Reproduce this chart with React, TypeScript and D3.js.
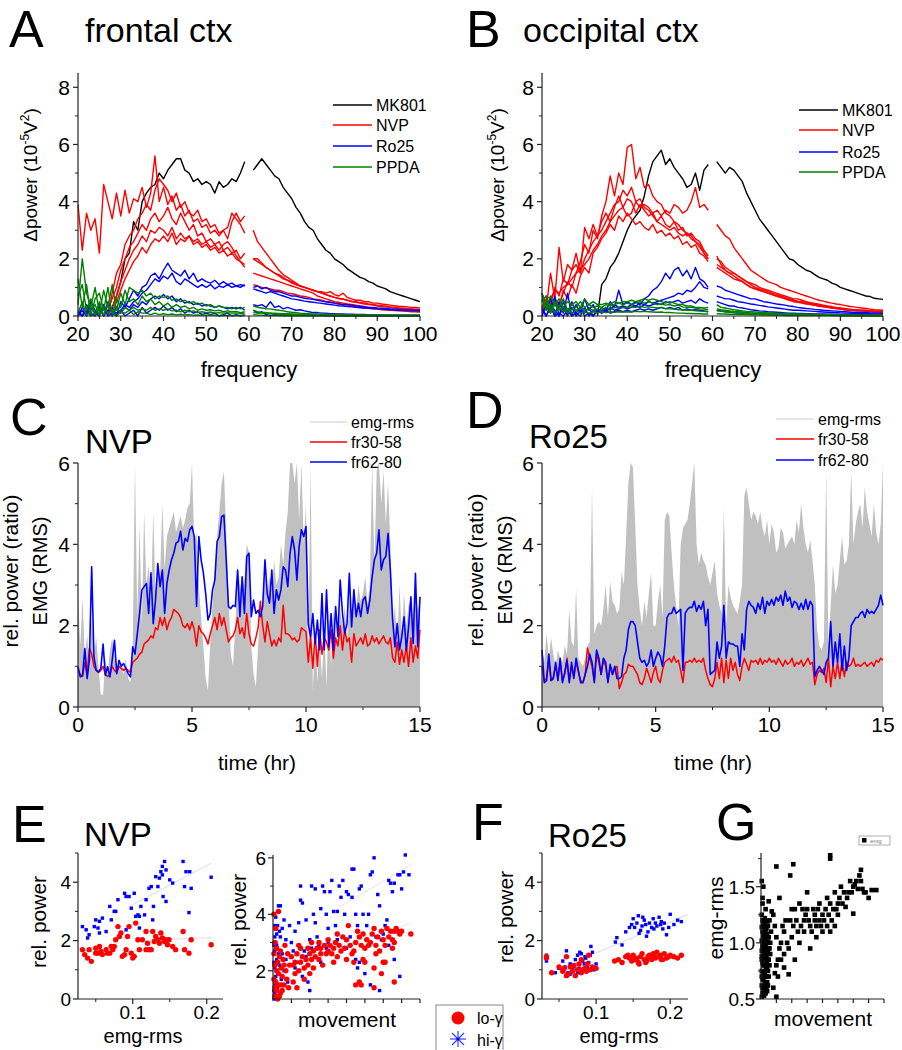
import React from "react";
import * as d3 from "d3";

const FONT = "'Liberation Sans', Arial, Helvetica, sans-serif";
const RED = "#ff0000";
const BLUE = "#0000ff";
const GREEN = "#008000";
const AX = "#222";

// x grids (axes positions, not data)
const FREQS = d3.range(20, 101); // 20..100 Hz, 1 Hz bins
const HOURS = d3.range(0, 151).map((i) => i / 10); // 0..15 hr, 0.1 hr bins

// ---------- A: frontal ctx spectra (delta power, 1e-5 V^2), null = 60 Hz notch / no data
const aMK801 = [
  null, null, null, null, null, null, null, null, 0.3, 0.7,
  1.2, 2.0, 2.2, 3.3, 3.0, 4.0, 4.3, 4.5, 4.6, 5.0,
  4.8, 5.1, 5.3, 5.5, 5.5, 5.1, 5.0, 4.7, 4.8, 4.6,
  4.7, 4.6, 4.3, 4.7, 4.5, 4.6, 4.8, 4.7, 5.0, 5.4,
  null, 5.1, 5.3, 5.5, 5.3, 5.1, 4.9, 4.8, 4.5, 4.3,
  4.1, 3.8, 3.6, 3.3, 3.1, 3.0, 2.7, 2.5, 2.3, 2.2,
  2.0, 1.9, 1.8, 1.65, 1.55, 1.45, 1.35, 1.3, 1.2, 1.15,
  1.05, 1.0, 0.95, 0.85, 0.8, 0.75, 0.7, 0.65, 0.6, 0.55,
  0.5,
];
const aNVP = [
  [
    3.9, 2.3, 3.6, 3.0, 3.4, 2.2, 4.6, 4.0, 3.4, 4.3,
    3.5, 4.4, 3.6, 4.1, 4.0, 4.5, 3.8, 4.3, 5.6, 4.0,
    4.5, 3.9, 4.2, 3.7, 3.9, 3.5, 3.7, 3.3, 3.4, 3.1,
    3.2, 2.9, 3.0, 2.8, 3.0, 2.7, 3.3, 3.6, 3.3, 3.5,
    null, 3.0, 2.6, 2.4, 2.2, 2.0, 1.8, 1.6, 1.45, 1.35,
    1.25, 1.15, 1.05, 1.0, 0.95, 0.9, 0.85, 0.85, 0.8, 0.85,
    0.75, 0.7, 0.8, 0.65, 0.6, 0.55, 0.55, 0.5, 0.5, 0.45,
    0.45, 0.42, 0.4, 0.38, 0.36, 0.34, 0.33, 0.32, 0.3, 0.3,
    0.28,
  ],
  [
    null, null, null, null, null, null, null, 0.0, 0.8, 1.5,
    1.8, 2.5, 2.8, 3.0, 3.4, 3.6, 3.9, 3.7, 4.4, 4.8,
    4.6, 4.4, 4.0, 4.3, 3.8, 4.0, 3.6, 3.5, 3.7, 3.3,
    3.4, 3.1, 3.2, 2.9, 3.0, 3.1, 3.6, 3.4, 3.2, 2.9,
    null, 2.0, 2.0, 1.85, 1.7, 1.6, 1.5, 1.45, 1.35, 1.25,
    1.15, 1.1, 1.05, 1.0, 0.95, 0.9, 0.85, 0.8, 0.75, 0.7,
    0.65, 0.62, 0.6, 0.55, 0.52, 0.5, 0.47, 0.45, 0.42, 0.4,
    0.38, 0.36, 0.34, 0.32, 0.3, 0.28, 0.27, 0.26, 0.25, 0.24,
    0.22,
  ],
  [
    null, null, null, null, null, null, null, 0.2, 0.6, 1.0,
    1.6, 2.0, 2.4, 2.6, 2.9, 3.2, 3.0, 3.4, 3.6, 3.3,
    3.5, 3.8, 3.4, 3.2, 3.6, 3.3, 3.0, 3.2, 2.8, 2.9,
    2.6, 2.7, 2.5, 2.6, 2.3, 2.4, 2.2, 2.3, 2.0, 2.2,
    null, 1.5, 1.45, 1.4, 1.35, 1.3, 1.25, 1.2, 1.15, 1.1,
    1.05, 1.0, 0.95, 0.9, 0.85, 0.8, 0.7, 0.65, 0.6, 0.55,
    0.5, 0.48, 0.45, 0.42, 0.4, 0.38, 0.35, 0.33, 0.3, 0.28,
    0.26, 0.25, 0.24, 0.22, 0.21, 0.2, 0.19, 0.18, 0.17, 0.16,
    0.15,
  ],
  [
    null, null, null, null, null, null, null, null, 0.3, 0.7,
    1.2, 1.6, 2.0, 2.3, 2.5, 2.8, 2.6, 3.0, 2.9, 3.1,
    3.0, 2.8, 3.1, 2.7, 2.9, 2.7, 2.8, 2.6, 2.7, 2.5,
    2.6, 2.4, 2.5, 2.3, 2.5, 2.6, 2.4, 2.1, 1.9, 1.8,
    null, 1.1, 1.05, 1.0, 0.98, 0.95, 0.9, 0.9, 0.85, 0.8,
    0.78, 0.75, 0.7, 0.68, 0.65, 0.6, 0.58, 0.55, 0.5, 0.48,
    0.45, 0.42, 0.4, 0.38, 0.35, 0.33, 0.3, 0.28, 0.27, 0.25,
    0.24, 0.22, 0.21, 0.2, 0.19, 0.18, 0.17, 0.16, 0.15, 0.15,
    0.14,
  ],
  [
    null, null, null, null, null, null, null, null, 0.1, 0.5,
    0.9, 1.3, 1.6, 1.9, 2.1, 2.4, 2.2, 2.5, 2.7, 2.6,
    2.8, 2.6, 2.9, 2.5, 2.7, 2.6, 2.8, 2.5, 2.6, 2.4,
    2.5, 2.3, 2.4, 2.2, 2.3, 2.1, 2.2, 2.0, 1.9, 1.7,
    null, 2.0, 1.9, 1.8, 1.7, 1.6, 1.5, 1.4, 1.3, 1.25,
    1.2, 1.1, 1.05, 1.0, 0.95, 0.9, 0.85, 0.8, 0.75, 0.7,
    0.65, 0.6, 0.58, 0.55, 0.5, 0.48, 0.45, 0.42, 0.4, 0.38,
    0.35, 0.33, 0.32, 0.3, 0.28, 0.27, 0.26, 0.25, 0.24, 0.23,
    0.22,
  ],
];
const aRo25 = [
  [
    0.0, 0.3, 0.1, 0.5, 0.2, 0.0, 0.4, 0.1, 0.3, 0.0,
    0.5, 0.3, 0.6, 0.9, 0.7, 1.0, 1.1, 1.4, 1.5, 1.3,
    1.6, 1.85, 1.6, 1.5, 1.4, 1.6, 1.3, 1.5, 1.2, 1.3,
    1.2, 1.15, 1.25, 1.1, 1.2, 1.1, 1.15, 1.05, 1.1, 1.05,
    null, 1.0, 1.05, 0.95, 1.0, 0.9, 0.85, 0.85, 0.8, 0.75,
    0.7, 0.7, 0.65, 0.62, 0.6, 0.58, 0.55, 0.52, 0.5, 0.48,
    0.45, 0.43, 0.4, 0.4, 0.38, 0.35, 0.34, 0.32, 0.3, 0.3,
    0.28, 0.27, 0.26, 0.25, 0.24, 0.23, 0.22, 0.22, 0.21, 0.2,
    0.2,
  ],
  [
    0.2, 0.0, 0.4, 0.1, 0.0, 0.3, 0.0, 0.5, 0.2, 0.1,
    0.2, 0.4, 0.3, 0.5, 0.6, 0.8, 0.9, 1.1, 1.3, 1.2,
    1.4, 1.3, 1.5, 1.2, 1.1, 1.3, 1.2, 1.1, 1.0, 1.1,
    1.0, 1.1, 0.95, 1.05, 1.0, 1.1, 1.0, 1.05, 1.0, 1.1,
    null, 0.95, 0.9, 0.85, 0.8, 0.85, 0.8, 0.75, 0.7, 0.65,
    0.6, 0.58, 0.55, 0.52, 0.5, 0.48, 0.46, 0.44, 0.42, 0.4,
    0.38, 0.36, 0.35, 0.33, 0.32, 0.3, 0.29, 0.28, 0.27, 0.26,
    0.25, 0.24, 0.23, 0.22, 0.21, 0.2, 0.2, 0.19, 0.19, 0.18,
    0.18,
  ],
  [
    0.0, 0.2, 0.0, 0.3, 0.1, 0.4, 0.0, 0.2, 0.0, 0.3,
    0.1, 0.3, 0.2, 0.4, 0.3, 0.5, 0.4, 0.6, 0.7, 0.6,
    0.75, 0.6, 0.7, 0.5, 0.6, 0.45, 0.5, 0.4, 0.45, 0.35,
    0.4, 0.35, 0.3, 0.35, 0.3, 0.25, 0.3, 0.25, 0.3, 0.2,
    null, 0.4, 0.35, 0.4, 0.3, 0.5, 0.3, 0.35, 0.25, 0.3,
    0.25, 0.2, 0.22, 0.18, 0.15, 0.12, 0.12, 0.1, 0.1, 0.08,
    0.08, 0.07, 0.07, 0.06, 0.06, 0.05, 0.05, 0.05, 0.04, 0.04,
    0.04, 0.04, 0.03, 0.03, 0.03, 0.03, 0.03, 0.03, 0.03, 0.03,
    0.03,
  ],
  [
    0.1, 0.0, 0.2, 0.0, 0.1, 0.0, 0.3, 0.0, 0.1, 0.0,
    0.2, 0.0, 0.1, 0.2, 0.0, 0.3, 0.1, 0.2, 0.3, 0.2,
    0.35, 0.2, 0.3, 0.15, 0.25, 0.1, 0.2, 0.1, 0.15, 0.05,
    0.1, 0.05, 0.1, 0.0, 0.05, 0.1, 0.0, 0.05, 0.0, 0.05,
    null, 0.2, 0.1, 0.15, 0.05, 0.1, 0.05, 0.08, 0.04, 0.05,
    0.03, 0.03, 0.02, 0.02, 0.02, 0.02, 0.02, 0.02, 0.01, 0.01,
    0.01, 0.01, 0.01, 0.01, 0.01, 0.01, 0.01, 0.01, 0.01, 0.01,
    0.01, 0.01, 0.01, 0.01, 0.01, 0.01, 0.01, 0.01, 0.01, 0.01,
    0.01,
  ],
];
const aPPDA = [
  [
    0.4, 2.0, 0.8, 0.3, 1.0, 0.1, 0.9, 0.3, 1.1, 0.2,
    0.8, 0.4, 1.0, 0.9, 0.8, 0.9, 0.7, 0.8, 0.6, 0.7,
    0.65, 0.7, 0.55, 0.6, 0.5, 0.55, 0.45, 0.5, 0.4, 0.45,
    0.35, 0.4, 0.3, 0.35, 0.3, 0.3, 0.25, 0.3, 0.25, 0.3,
    null, 0.35, 0.3, 0.28, 0.25, 0.25, 0.22, 0.2, 0.18, 0.15,
    0.13, 0.12, 0.1, 0.09, 0.08, 0.07, 0.07, 0.06, 0.06, 0.05,
    0.05, 0.05, 0.05, 0.04, 0.04, 0.04, 0.04, 0.04, 0.03, 0.03,
    0.03, 0.03, 0.03, 0.03, 0.03, 0.03, 0.03, 0.03, 0.03, 0.03,
    0.03,
  ],
  [
    1.3, 0.3, 1.1, 0.0, 0.6, 0.8, 0.2, 1.0, 0.0, 0.6,
    0.3, 0.9, 0.5, 0.6, 0.4, 0.7, 0.5, 0.6, 0.4, 0.5,
    0.35, 0.45, 0.3, 0.4, 0.3, 0.35, 0.25, 0.3, 0.2, 0.25,
    0.2, 0.22, 0.18, 0.2, 0.15, 0.18, 0.15, 0.16, 0.12, 0.15,
    null, 0.2, 0.15, 0.12, 0.12, 0.1, 0.1, 0.09, 0.08, 0.08,
    0.07, 0.06, 0.06, 0.05, 0.05, 0.04, 0.04, 0.04, 0.03, 0.03,
    0.03, 0.03, 0.02, 0.02, 0.02, 0.02, 0.02, 0.02, 0.02, 0.02,
    0.02, 0.02, 0.02, 0.02, 0.02, 0.02, 0.02, 0.02, 0.02, 0.02,
    0.02,
  ],
  [
    0.7, 1.1, 0.2, 0.6, 0.0, 0.5, 0.0, 0.4, 0.1, 0.3,
    0.1, 0.3, 0.2, 0.3, 0.2, 0.25, 0.2, 0.3, 0.2, 0.25,
    0.2, 0.25, 0.18, 0.2, 0.15, 0.2, 0.15, 0.18, 0.12, 0.15,
    0.12, 0.14, 0.1, 0.12, 0.1, 0.12, 0.1, 0.11, 0.09, 0.1,
    null, 0.12, 0.1, 0.1, 0.09, 0.08, 0.08, 0.07, 0.07, 0.06,
    0.05, 0.05, 0.05, 0.04, 0.04, 0.04, 0.03, 0.03, 0.03, 0.03,
    0.02, 0.02, 0.02, 0.02, 0.02, 0.02, 0.02, 0.02, 0.02, 0.02,
    0.02, 0.02, 0.02, 0.02, 0.02, 0.01, 0.01, 0.01, 0.01, 0.01,
    0.01,
  ],
  [
    0.1, 0.5, 0.0, 0.2, 0.4, 0.0, 0.3, 0.1, 0.2, 0.0,
    0.15, 0.1, 0.2, 0.05, 0.15, 0.1, 0.1, 0.05, 0.1, 0.05,
    0.08, 0.05, 0.07, 0.04, 0.06, 0.04, 0.05, 0.03, 0.04, 0.03,
    0.03, 0.03, 0.03, 0.02, 0.02, 0.02, 0.02, 0.02, 0.02, 0.02,
    null, 0.05, 0.03, 0.03, 0.02, 0.02, 0.02, 0.02, 0.01, 0.01,
    0.01, 0.01, 0.01, 0.01, 0.01, 0.01, 0.01, 0.01, 0.01, 0.01,
    0.01, 0.01, 0.01, 0.01, 0.01, 0.01, 0.01, 0.01, 0.01, 0.01,
    0.01, 0.01, 0.01, 0.01, 0.01, 0.01, 0.01, 0.01, 0.01, 0.01,
    0.01,
  ],
];

// ---------- B: occipital ctx spectra
const bMK801 = [
  null, null, null, null, null, null, null, null, null, null,
  null, null, null, 0.0, 1.1, 1.3, 1.7, 1.9, 2.2, 2.6,
  3.0, 3.3, 3.5, 3.7, 4.2, 4.9, 5.4, 5.6, 5.8, 5.3,
  5.5, 5.2, 5.0, 4.8, 4.5, 4.6, 5.0, 4.4, 5.1, 5.3,
  null, 5.4, 5.2, 5.0, 5.2, 5.1, 4.9, 4.7, 4.3, 4.0,
  3.7, 3.4, 3.2, 3.0, 2.8, 2.6, 2.4, 2.2, 2.0, 1.95,
  1.8, 1.7, 1.6, 1.55, 1.45, 1.35, 1.3, 1.25, 1.15, 1.1,
  1.0, 0.95, 0.9, 0.85, 0.8, 0.75, 0.7, 0.68, 0.62, 0.6,
  0.58,
];
const bNVP = [
  [
    0.8, 0.3, 1.5, 0.6, 2.4, 1.2, 1.8, 1.6, 2.2, 1.5,
    3.1, 2.7, 3.2, 2.8, 3.3, 3.6, 3.3, 3.8, 4.2, 3.8,
    4.1, 4.0, 3.6, 3.9, 3.7, 3.5, 3.6, 3.3, 3.5, 3.2,
    3.1, 3.3, 3.0, 3.1, 2.8, 2.9, 2.7, 2.6, 2.3, 2.1,
    null, 2.0, 1.9, 1.7, 1.6, 1.5, 1.4, 1.3, 1.2, 1.1,
    1.0, 0.95, 0.9, 0.85, 0.8, 0.75, 0.7, 0.65, 0.6, 0.55,
    0.5, 0.47, 0.44, 0.41, 0.38, 0.35, 0.33, 0.3, 0.28, 0.26,
    0.24, 0.22, 0.21, 0.2, 0.19, 0.18, 0.17, 0.16, 0.15, 0.15,
    0.15,
  ],
  [
    0.2, 0.5, 0.3, 0.6, 0.4, 0.8, 1.2, 1.0, 1.5, 1.9,
    2.5, 2.2, 3.0, 2.7, 3.5, 4.0, 4.9, 4.2, 5.0, 4.6,
    5.9, 6.0, 4.8, 5.2, 4.5, 4.6, 4.2, 4.0, 3.9, 3.6,
    3.5, 3.3, 3.2, 3.0, 2.9, 2.8, 2.6, 2.5, 2.2, 2.0,
    null, 1.8, 1.7, 1.6, 1.5, 1.5, 1.4, 1.3, 1.2, 1.15,
    1.1, 1.0, 0.95, 0.9, 0.85, 0.8, 0.75, 0.7, 0.65, 0.6,
    0.6, 0.55, 0.5, 0.47, 0.44, 0.41, 0.38, 0.35, 0.33, 0.3,
    0.28, 0.26, 0.24, 0.22, 0.21, 0.2, 0.19, 0.18, 0.17, 0.16,
    0.15,
  ],
  [
    0.5, 0.7, 0.6, 0.9, 0.8, 1.0, 1.1, 1.3, 1.5, 1.6,
    1.8, 2.0, 2.3, 2.5, 2.8, 3.0, 3.3, 3.5, 3.7, 3.8,
    3.5, 3.6, 4.0, 3.8, 3.9, 3.8, 3.6, 3.7, 3.5, 3.7,
    3.6, 3.9, 3.8, 3.6, 3.7, 4.0, 4.5, 3.8, 3.9, 3.7,
    null, 3.2, 3.0, 2.8, 2.7, 2.4, 2.2, 2.0, 1.8, 1.6,
    1.5, 1.4, 1.3, 1.2, 1.15, 1.1, 1.0, 0.95, 0.9, 0.85,
    0.8, 0.75, 0.7, 0.65, 0.6, 0.55, 0.52, 0.48, 0.45, 0.42,
    0.4, 0.37, 0.34, 0.32, 0.3, 0.28, 0.26, 0.24, 0.22, 0.21,
    0.2,
  ],
  [
    0.3, 0.6, 0.4, 1.0, 0.7, 1.3, 1.1, 1.6, 1.8, 1.5,
    2.0, 2.3, 2.6, 2.8, 3.0, 3.3, 3.6, 3.9, 4.0, 4.4,
    4.2, 4.5, 4.0, 4.1, 3.8, 3.7, 3.5, 3.3, 3.2, 3.1,
    3.0, 3.1, 2.9, 2.8, 2.9, 2.7, 2.6, 2.4, 2.2, 2.0,
    null, 2.1, 1.8, 1.6, 1.5, 1.4, 1.3, 1.2, 1.1, 1.0,
    0.95, 0.9, 0.85, 0.8, 0.75, 0.7, 0.65, 0.6, 0.55, 0.5,
    0.48, 0.45, 0.42, 0.4, 0.37, 0.34, 0.32, 0.3, 0.28, 0.26,
    0.24, 0.22, 0.21, 0.2, 0.19, 0.18, 0.17, 0.16, 0.15, 0.14,
    0.13,
  ],
  [
    0.1, 0.4, 0.2, 0.5, 0.3, 0.9, 0.6, 1.1, 0.8, 1.4,
    1.7, 1.5, 2.2, 2.4, 2.7, 2.9, 3.2, 3.0, 3.5, 3.3,
    3.6, 3.4, 3.2, 3.3, 3.1, 3.0, 3.2, 2.9, 3.0, 2.8,
    2.9, 2.7, 2.8, 2.5, 2.6, 2.4, 2.5, 2.2, 2.1, 1.9,
    null, 1.7, 1.6, 1.5, 1.4, 1.3, 1.25, 1.2, 1.1, 1.0,
    0.95, 0.9, 0.85, 0.8, 0.75, 0.7, 0.65, 0.62, 0.58, 0.55,
    0.52, 0.5, 0.47, 0.44, 0.41, 0.38, 0.35, 0.33, 0.3, 0.28,
    0.26, 0.24, 0.23, 0.22, 0.21, 0.2, 0.19, 0.18, 0.17, 0.17,
    0.16,
  ],
];
const bRo25 = [
  [
    0.8, 0.2, 0.6, 0.0, 0.5, 0.1, 0.8, 0.0, 0.4, 0.1,
    0.6, 0.2, 0.4, 0.1, 0.3, 0.2, 0.5, 0.3, 0.9, 0.4,
    0.5, 0.4, 0.5, 0.4, 0.6, 0.7, 0.9, 1.0, 1.2, 1.5,
    1.3, 1.6, 1.7, 1.4, 1.6, 1.3, 1.7, 1.3, 1.2, 1.0,
    null, 1.05, 1.0, 0.9, 0.85, 0.8, 0.75, 0.7, 0.65, 0.6,
    0.6, 0.55, 0.5, 0.48, 0.45, 0.42, 0.4, 0.38, 0.35, 0.33,
    0.3, 0.28, 0.26, 0.25, 0.23, 0.22, 0.2, 0.19, 0.18, 0.17,
    0.16, 0.15, 0.14, 0.13, 0.13, 0.12, 0.12, 0.11, 0.11, 0.1,
    0.1,
  ],
  [
    0.3, 0.0, 0.4, 0.2, 0.0, 0.5, 0.1, 0.3, 0.0, 0.2,
    0.1, 0.3, 0.0, 0.2, 0.1, 0.3, 0.2, 0.4, 0.3, 0.35,
    0.3, 0.4, 0.35, 0.45, 0.4, 0.5, 0.45, 0.5, 0.55, 0.6,
    0.65, 0.7, 0.8, 0.75, 0.9, 0.85, 1.0, 1.2, 1.0, 0.95,
    null, 0.7, 0.65, 0.6, 0.6, 0.55, 0.5, 0.48, 0.45, 0.42,
    0.4, 0.37, 0.35, 0.32, 0.3, 0.28, 0.26, 0.24, 0.22, 0.2,
    0.2, 0.19, 0.18, 0.17, 0.16, 0.15, 0.14, 0.13, 0.12, 0.12,
    0.11, 0.1, 0.1, 0.09, 0.09, 0.08, 0.08, 0.08, 0.07, 0.07,
    0.07,
  ],
  [
    0.0, 0.4, 0.1, 0.7, 0.0, 0.3, 0.0, 0.5, 0.1, 0.0,
    0.3, 0.0, 0.2, 0.1, 0.2, 0.15, 0.3, 0.2, 0.25, 0.3,
    0.25, 0.3, 0.35, 0.3, 0.4, 0.35, 0.4, 0.45, 0.4, 0.5,
    0.45, 0.5, 0.55, 0.45, 0.5, 0.55, 0.45, 0.6, 0.5, 0.45,
    null, 0.5, 0.45, 0.4, 0.35, 0.35, 0.3, 0.28, 0.25, 0.22,
    0.2, 0.18, 0.17, 0.15, 0.14, 0.13, 0.12, 0.11, 0.1, 0.1,
    0.09, 0.09, 0.08, 0.08, 0.07, 0.07, 0.07, 0.06, 0.06, 0.06,
    0.05, 0.05, 0.05, 0.05, 0.05, 0.04, 0.04, 0.04, 0.04, 0.04,
    0.04,
  ],
  [
    0.2, 0.0, 0.3, 0.0, 0.1, 0.0, 0.2, 0.0, 0.1, 0.3,
    0.0, 0.1, 0.0, 0.2, 0.1, 0.2, 0.1, 0.15, 0.2, 0.15,
    0.2, 0.15, 0.2, 0.25, 0.2, 0.25, 0.2, 0.25, 0.3, 0.25,
    0.3, 0.25, 0.3, 0.2, 0.25, 0.2, 0.22, 0.2, 0.18, 0.15,
    null, 0.2, 0.18, 0.15, 0.14, 0.12, 0.1, 0.1, 0.08, 0.08,
    0.07, 0.07, 0.06, 0.06, 0.05, 0.05, 0.05, 0.04, 0.04, 0.04,
    0.04, 0.03, 0.03, 0.03, 0.03, 0.03, 0.03, 0.03, 0.02, 0.02,
    0.02, 0.02, 0.02, 0.02, 0.02, 0.02, 0.02, 0.02, 0.02, 0.02,
    0.02,
  ],
];
const bPPDA = [
  [
    0.8, 0.3, 0.7, 0.4, 0.6, 0.3, 0.5, 0.4, 0.5, 0.3,
    0.6, 0.4, 0.5, 0.4, 0.4, 0.45, 0.4, 0.5, 0.45, 0.5,
    0.5, 0.55, 0.5, 0.55, 0.6, 0.55, 0.6, 0.55, 0.5, 0.45,
    0.5, 0.45, 0.4, 0.4, 0.35, 0.35, 0.3, 0.3, 0.28, 0.3,
    null, 0.4, 0.3, 0.28, 0.25, 0.22, 0.2, 0.18, 0.16, 0.15,
    0.14, 0.13, 0.12, 0.11, 0.1, 0.1, 0.09, 0.09, 0.08, 0.08,
    0.07, 0.07, 0.06, 0.06, 0.06, 0.05, 0.05, 0.05, 0.05, 0.04,
    0.04, 0.04, 0.04, 0.04, 0.04, 0.03, 0.03, 0.03, 0.03, 0.03,
    0.03,
  ],
  [
    0.5, 0.7, 0.2, 0.5, 0.3, 0.6, 0.2, 0.4, 0.3, 0.5,
    0.3, 0.4, 0.3, 0.35, 0.3, 0.4, 0.35, 0.4, 0.45, 0.4,
    0.45, 0.4, 0.45, 0.5, 0.45, 0.5, 0.45, 0.4, 0.42, 0.38,
    0.4, 0.35, 0.38, 0.32, 0.3, 0.3, 0.28, 0.25, 0.24, 0.22,
    null, 0.25, 0.22, 0.2, 0.18, 0.16, 0.15, 0.14, 0.12, 0.11,
    0.1, 0.09, 0.09, 0.08, 0.08, 0.07, 0.07, 0.06, 0.06, 0.05,
    0.05, 0.05, 0.04, 0.04, 0.04, 0.04, 0.03, 0.03, 0.03, 0.03,
    0.03, 0.03, 0.03, 0.02, 0.02, 0.02, 0.02, 0.02, 0.02, 0.02,
    0.02,
  ],
  [
    0.3, 0.5, 0.1, 0.4, 0.2, 0.3, 0.1, 0.25, 0.2, 0.3,
    0.2, 0.25, 0.2, 0.25, 0.2, 0.3, 0.25, 0.3, 0.28, 0.3,
    0.3, 0.32, 0.3, 0.35, 0.3, 0.32, 0.3, 0.28, 0.3, 0.26,
    0.25, 0.24, 0.22, 0.22, 0.2, 0.2, 0.18, 0.17, 0.16, 0.15,
    null, 0.18, 0.16, 0.15, 0.14, 0.12, 0.11, 0.1, 0.09, 0.08,
    0.07, 0.07, 0.06, 0.06, 0.05, 0.05, 0.05, 0.04, 0.04, 0.04,
    0.03, 0.03, 0.03, 0.03, 0.03, 0.03, 0.03, 0.03, 0.03, 0.03,
    0.02, 0.02, 0.02, 0.02, 0.02, 0.02, 0.02, 0.02, 0.02, 0.02,
    0.02,
  ],
  [
    0.6, 0.2, 0.4, 0.1, 0.3, 0.15, 0.25, 0.1, 0.2, 0.1,
    0.15, 0.1, 0.15, 0.12, 0.15, 0.12, 0.15, 0.13, 0.15, 0.14,
    0.15, 0.14, 0.16, 0.15, 0.16, 0.15, 0.14, 0.13, 0.14, 0.12,
    0.12, 0.11, 0.1, 0.1, 0.09, 0.09, 0.08, 0.08, 0.07, 0.07,
    null, 0.08, 0.07, 0.07, 0.06, 0.06, 0.05, 0.05, 0.05, 0.04,
    0.04, 0.04, 0.03, 0.03, 0.03, 0.03, 0.03, 0.02, 0.02, 0.02,
    0.02, 0.02, 0.02, 0.02, 0.02, 0.02, 0.02, 0.02, 0.02, 0.02,
    0.01, 0.01, 0.01, 0.01, 0.01, 0.01, 0.01, 0.01, 0.01, 0.01,
    0.01,
  ],
];

// ---------- C: NVP time course (0.1 hr bins)
const cEmg = [
  2.8, 1.5, 2.7, 1.2, 1.8, 0.9, 2.2, 1.3, 1.7, 1.0,
  0.3, 0.3, 1.2, 0.8, 1.4, 1.7, 1.2, 0.9, 1.1, 1.0,
  0.8, 1.2, 0.7, 0.6, 1.5, 6.0, 2.2, 4.5, 2.0, 4.8,
  3.0, 3.5, 2.5, 4.8, 2.8, 3.5, 3.2, 5.0, 3.4, 4.2,
  4.4, 4.6, 4.8, 4.3, 4.5, 4.7, 4.4, 4.6, 4.9, 5.0,
  6.0, 4.0, 4.3, 3.0, 2.2, 1.5, 0.7, 0.4, 1.6, 2.5,
  3.3, 4.2, 4.8, 5.5, 5.8, 4.3, 2.8, 1.3, 1.0, 2.0,
  3.5, 3.0, 2.8, 3.2, 4.0, 3.8, 1.5, 0.8, 0.5, 1.5,
  2.5, 2.3, 3.5, 2.8, 3.2, 2.9, 3.6, 3.0, 3.2, 4.0,
  3.5, 4.3, 4.8, 6.0, 6.0, 5.5, 6.0, 4.6, 6.0, 4.0,
  5.0, 1.0, 6.0, 0.4, 1.8, 0.6, 1.7, 0.7, 1.9, 0.5,
  2.5, 1.0, 2.4, 1.8, 1.5, 2.4, 2.0, 2.5, 1.6, 2.7,
  2.0, 3.0, 2.4, 3.0, 2.6, 2.8, 3.2, 2.5, 3.0, 6.0,
  3.5, 5.8, 6.0, 5.0, 5.8, 4.5, 5.5, 4.0, 2.0, 2.5,
  1.5, 3.0, 1.8, 2.8, 2.0, 2.5, 2.6, 2.2, 2.9, 2.4,
  2.6,
];
const cLo = [
  0.9, 0.8, 0.75, 1.1, 0.8, 1.45, 1.3, 1.0, 0.9, 0.85,
  0.9, 1.0, 0.8, 0.75, 0.8, 1.0, 0.9, 0.85, 1.0, 0.95,
  0.9, 0.95, 0.9, 0.85, 1.1, 1.15, 1.2, 1.3, 1.35, 1.55,
  1.6, 1.65, 1.75, 1.7, 1.95, 1.9, 2.2, 2.0, 2.2, 1.9,
  2.1, 2.2, 2.4, 2.35, 2.3, 2.2, 2.0, 1.95, 2.05, 1.9,
  2.1, 1.9, 1.5, 2.0, 1.85, 1.8, 1.7, 1.55, 1.8, 2.0,
  2.2, 1.9, 2.3, 2.0, 2.2, 1.9, 1.6, 1.7, 1.75, 1.9,
  2.2, 1.8, 1.95, 1.7, 2.3, 1.8, 1.55, 1.5, 1.7, 1.95,
  2.6, 2.0, 1.6, 2.1, 1.8, 1.5, 1.65, 1.5, 1.7, 1.6,
  2.5, 1.8, 1.8, 1.75, 1.65, 1.7, 1.6, 1.65, 1.95, 1.9,
  1.85, 1.1, 1.7, 0.95, 1.8, 1.0, 1.9, 1.3, 1.7, 1.6,
  1.4, 1.9, 1.2, 1.7, 1.5, 2.0, 1.4, 1.9, 1.6, 1.7,
  1.1, 1.8, 1.5, 1.6, 1.7, 1.55, 1.8, 1.5, 1.55, 1.75,
  1.6, 1.7, 1.55, 1.65, 1.75, 1.6, 1.55, 1.7, 1.2, 1.1,
  1.6, 1.05, 1.4, 1.1, 1.5, 1.0, 1.7, 1.1, 1.5, 1.2,
  1.9,
];
const cHi = [
  0.99, 0.74, 0.78, 1.44, 0.7, 1.15, 3.45, 1.23, 0.9, 0.86,
  0.95, 1.55, 0.78, 0.99, 0.74, 1.15, 1.64, 0.82, 1.15, 1.0,
  1.07, 0.95, 0.82, 0.74, 1.48, 1.3, 1.8, 2.3, 2.88, 2.96,
  3.04, 2.3, 3.3, 2.05, 2.63, 3.53, 2.96, 3.37, 2.3, 3.04,
  3.37, 3.62, 3.78, 4.03, 4.07, 4.32, 3.86, 4.15, 4.07, 4.36,
  4.44, 4.19, 2.47, 4.19, 3.62, 3.29, 2.79, 2.14, 2.3, 2.88,
  3.12, 4.07, 4.19, 4.68, 4.72, 3.62, 2.47, 2.42, 2.5, 2.47,
  3.37, 2.22, 3.2, 2.3, 3.7, 3.78, 2.22, 2.63, 2.3, 2.38,
  2.22, 2.47, 3.62, 2.79, 2.55, 3.37, 2.3, 2.88, 2.63, 2.88,
  3.45, 3.37, 2.96, 3.78, 4.19, 3.86, 3.12, 3.95, 4.36, 4.19,
  4.44, 2.05, 1.73, 2.3, 1.56, 2.14, 1.4, 2.79, 1.4, 2.88,
  1.48, 2.3, 1.4, 2.47, 1.73, 3.12, 2.3, 1.81, 2.05, 3.29,
  1.97, 2.88, 2.22, 2.55, 2.22, 2.63, 2.71, 2.3, 2.63, 3.2,
  3.62, 3.78, 4.36, 3.37, 3.62, 3.7, 4.27, 3.37, 2.14, 1.48,
  2.05, 1.4, 1.73, 2.22, 1.4, 1.97, 2.71, 1.56, 3.29, 1.48,
  2.71,
];

// ---------- D: Ro25 time course
const dEmg = [
  1.5, 1.1, 1.8, 1.2, 1.7, 1.3, 1.0, 1.4, 1.2, 1.1,
  1.5, 1.3, 2.4, 1.6, 1.5, 2.9, 1.2, 1.1, 1.0, 1.2,
  1.5, 1.6, 5.4, 1.8, 2.0, 2.1, 2.0, 2.4, 3.0, 2.2,
  3.1, 2.6, 2.5, 2.3, 2.4, 3.3, 3.0, 4.2, 5.5, 6.0,
  5.9, 4.5, 3.0, 2.4, 2.0, 2.6, 2.2, 2.8, 3.3, 2.0,
  2.0, 2.6, 3.0, 2.2, 4.6, 4.8, 4.7, 3.8, 3.0, 2.5,
  2.0, 4.0, 4.4, 4.5, 4.6, 5.0, 5.5, 6.0, 4.0, 3.5,
  3.8, 3.6, 3.5, 3.2, 3.0, 3.3, 3.6, 2.8, 2.5, 2.3,
  4.9, 2.0, 3.0, 2.7, 2.5, 2.4, 2.3, 2.6, 3.0, 5.2,
  5.4, 5.0, 4.6, 4.8, 4.7, 4.5, 4.8, 4.4, 4.2, 4.6,
  4.0, 4.5, 4.3, 3.8, 3.9, 4.4, 4.3, 3.9, 4.0, 4.1,
  4.2, 4.0, 4.6, 4.3, 5.0, 4.4, 4.0, 3.8, 4.1, 3.6,
  3.0, 1.9, 1.5, 1.4, 1.6, 5.8, 1.5, 2.5, 3.5, 2.8,
  3.0, 3.6, 4.2, 3.5, 3.6, 4.0, 5.8, 4.0, 4.5, 4.8,
  5.0, 4.4, 5.4, 4.8, 4.5, 4.2, 5.0, 4.3, 4.0, 4.5,
  6.0,
];
const dLo = [
  1.0, 0.65, 0.7, 1.15, 0.65, 0.75, 1.0, 0.7, 1.1, 0.65,
  0.8, 1.2, 0.65, 1.0, 0.75, 1.1, 0.85, 0.65, 0.6, 0.8,
  1.45, 1.2, 1.0, 0.65, 1.3, 1.1, 0.8, 1.15, 1.0, 0.65,
  1.0, 0.8, 0.95, 1.0, 0.45, 0.6, 0.8, 0.85, 1.05, 1.0,
  1.0, 0.9, 0.8, 0.6, 0.55, 0.7, 0.95, 0.8, 0.6, 0.85,
  1.0, 0.7, 0.6, 0.9, 1.1, 1.15, 1.2, 1.1, 1.25, 1.1,
  1.15, 0.9, 0.6, 1.1, 1.1, 1.15, 1.1, 1.2, 1.1, 1.15,
  1.1, 1.2, 0.9, 0.7, 0.55, 0.5, 0.7, 1.1, 0.7, 1.2,
  0.6, 1.15, 0.7, 1.2, 0.9, 1.1, 0.8, 0.65, 1.0, 1.2,
  1.05, 0.9, 1.15, 1.1, 1.15, 1.05, 1.2, 1.05, 1.15, 1.1,
  1.2, 1.1, 1.15, 1.05, 1.2, 1.1, 1.0, 1.15, 1.05, 1.1,
  1.2, 1.0, 1.1, 1.05, 1.15, 1.0, 1.1, 1.2, 1.05, 1.1,
  0.55, 0.8, 0.9, 0.85, 0.95, 0.6, 1.2, 0.5, 1.0, 0.7,
  1.1, 0.7, 1.15, 0.75, 1.1, 1.0, 1.05, 1.2, 1.0, 1.05,
  1.0, 1.05, 1.1, 1.0, 1.05, 1.1, 1.0, 1.15, 1.1, 1.2,
  1.15,
];
const dHi = [
  1.4, 0.6, 0.65, 1.3, 0.65, 0.7, 1.1, 0.65, 1.2, 0.6,
  0.85, 1.15, 0.6, 1.1, 0.7, 1.2, 0.9, 0.6, 0.6, 0.8,
  1.0, 1.3, 1.1, 0.6, 1.4, 1.2, 0.8, 1.2, 1.1, 0.6,
  1.05, 0.8, 1.0, 0.7, 0.7, 0.75, 1.2, 1.4, 1.9, 2.1,
  2.1, 2.0, 1.6, 1.2, 1.1, 1.15, 1.0, 1.1, 1.4, 1.0,
  1.2, 1.35, 1.25, 1.0, 1.5, 2.2, 2.3, 2.3, 2.45, 2.3,
  2.35, 2.4, 0.9, 2.3, 2.4, 2.45, 2.45, 2.6, 2.35, 2.5,
  2.4, 2.6, 2.0, 2.4, 0.8, 0.85, 0.9, 1.6, 1.2, 1.5,
  2.5, 1.2, 1.6, 1.55, 1.55, 1.5, 1.5, 1.0, 1.8, 1.4,
  2.4, 2.6, 2.5, 2.45, 2.3, 2.55, 2.4, 2.7, 2.3, 2.6,
  2.5, 2.65, 2.5, 2.7, 2.6, 2.75, 2.5, 2.85, 2.6, 2.7,
  2.45, 2.6, 2.55, 2.4, 2.55, 2.4, 2.65, 2.4, 2.6, 2.5,
  0.75, 0.9, 1.0, 0.9, 0.8, 1.1, 1.2, 2.1, 1.0, 1.6,
  1.1, 1.8, 0.9, 1.5, 0.9, 1.2, 2.0, 2.1, 2.2, 2.2,
  2.3, 2.35, 2.2, 2.4, 2.3, 2.35, 2.3, 2.4, 2.5, 2.75,
  2.5,
];

// ---------- E: NVP scatter vs emg-rms  [emg-rms, rel. power]
const eEmgHi = [
  [0.032, 2.48], [0.039, 2.09], [0.037, 2.37], [0.048, 2.48], [0.05, 2.71], [0.053, 2.43],
  [0.055, 2.26], [0.059, 2.77], [0.064, 2.31], [0.071, 2.71], [0.075, 3.0], [0.077, 3.0],
  [0.08, 3.4], [0.089, 3.62], [0.095, 3.51], [0.102, 3.62], [0.098, 3.11], [0.091, 2.37],
  [0.104, 2.83], [0.107, 2.88], [0.109, 2.83], [0.111, 3.17], [0.116, 2.88], [0.118, 3.4],
  [0.122, 3.79], [0.125, 3.85], [0.127, 2.71], [0.128, 3.17], [0.131, 4.19], [0.136, 4.14],
  [0.138, 4.36], [0.14, 4.54], [0.143, 4.71], [0.145, 4.42], [0.141, 3.51], [0.145, 3.34],
  [0.15, 4.08], [0.154, 3.97], [0.168, 4.71], [0.17, 3.85], [0.172, 4.36], [0.177, 4.36],
  [0.176, 2.96], [0.179, 3.79], [0.206, 4.17], [0.069, 3.17], [0.14, 4.25], [0.134, 3.85],
  [0.041, 2.2], [0.055, 2.66], [0.091, 3.51], [0.109, 2.43],
];
const eEmgLo = [
  [0.032, 1.69], [0.035, 1.52], [0.039, 1.4], [0.041, 1.69], [0.044, 1.29], [0.05, 1.74],
  [0.053, 1.57], [0.055, 1.8], [0.057, 1.63], [0.059, 1.52], [0.064, 1.69], [0.066, 1.57],
  [0.071, 1.8], [0.073, 1.69], [0.075, 1.8], [0.077, 2.03], [0.08, 2.48], [0.082, 2.14],
  [0.084, 2.26], [0.086, 1.46], [0.089, 1.52], [0.091, 1.69], [0.093, 2.14], [0.095, 2.48],
  [0.098, 1.57], [0.1, 1.4], [0.102, 1.46], [0.104, 2.6], [0.107, 2.03], [0.109, 1.69],
  [0.113, 2.03], [0.118, 2.31], [0.12, 1.91], [0.122, 1.69], [0.125, 1.69], [0.127, 2.31],
  [0.129, 1.97], [0.131, 2.14], [0.134, 2.03], [0.136, 1.91], [0.138, 2.26], [0.14, 2.09],
  [0.143, 1.97], [0.145, 2.03], [0.147, 1.86], [0.149, 2.03], [0.154, 1.8], [0.158, 1.69],
  [0.168, 2.31], [0.17, 1.69], [0.176, 1.57], [0.179, 2.03], [0.206, 1.86], [0.05, 1.57],
  [0.069, 1.57], [0.118, 1.69],
];
const eEmgFitHi = [[0.095, 3.17], [0.206, 4.65]];
const eEmgFitLo = [[0.15, 2.05], [0.206, 2.1]];

// E: NVP scatter vs movement  [movement, rel. power]
const eMovHi = [
  [0.1, 1.2], [0.1, 1.5], [0.15, 1.8], [0.1, 2.1], [0.2, 2.4], [0.1, 2.7], [0.15, 3.0],
  [0.2, 3.3], [0.1, 3.6], [0.15, 3.9], [0.3, 4.3], [0.4, 4.3], [0.05, 4.0], [0.25, 1.4],
  [0.3, 1.9], [0.35, 2.2], [0.2, 2.9], [0.4, 3.2], [0.5, 3.5], [0.5, 2.6], [0.45, 1.7],
  [0.6, 2.0], [0.6, 3.8], [0.7, 3.1], [0.7, 2.4], [0.8, 1.6], [0.05, 1.0], [0.3, 2.6],
  [0.25, 3.6], [0.1, 3.2], [0.05, 1.3], [0.05, 2.3], [0.05, 2.9], [0.2, 1.1], [0.35, 3.4],
  [0.9, 3.6], [1.0, 3.0], [1.1, 2.7], [1.2, 3.4], [1.3, 2.3], [1.4, 3.7], [1.5, 4.5],
  [1.5, 5.0], [1.6, 4.4], [1.7, 2.7], [1.8, 2.5], [1.9, 1.6], [2.0, 1.3], [1.8, 3.8],
  [2.0, 3.1], [2.1, 2.8], [2.2, 4.0], [2.1, 5.0], [2.3, 4.9], [2.4, 3.2], [2.5, 2.9],
  [2.6, 4.2], [2.7, 5.0], [2.8, 4.8], [2.9, 4.0], [3.0, 3.5], [2.6, 2.3], [2.3, 3.7],
  [1.2, 2.1], [1.6, 1.8], [2.9, 2.8], [3.1, 4.8], [3.2, 5.2], [3.3, 4.1], [3.4, 3.6],
  [3.5, 4.1], [3.6, 5.0], [3.7, 4.6], [3.8, 5.2], [3.9, 4.0], [4.0, 4.8], [4.1, 4.7],
  [4.2, 3.2], [4.3, 5.6], [4.4, 5.6], [4.5, 4.0], [4.6, 3.6], [4.7, 4.9], [4.8, 5.0],
  [4.9, 4.0], [4.5, 2.4], [4.6, 2.1], [4.7, 2.3], [3.5, 3.1], [4.0, 2.8], [3.0, 3.0],
  [4.3, 4.6], [5.1, 3.6], [5.2, 4.0], [5.3, 5.4], [5.4, 5.5], [5.5, 6.0], [5.7, 4.7],
  [5.8, 4.3], [5.6, 3.2], [5.9, 3.1], [6.0, 3.3], [6.1, 3.6], [6.2, 3.8], [6.3, 5.2],
  [6.4, 5.1], [6.5, 4.8], [6.6, 5.1], [6.8, 5.4], [6.9, 5.4], [7.0, 4.9], [7.1, 5.5],
  [7.2, 6.1], [7.4, 5.4], [6.6, 2.4], [6.9, 1.8], [5.3, 1.5], [5.8, 1.3], [6.1, 2.9],
  [6.3, 2.9], [5.0, 1.9],
];
const eMovLo = [
  [0.1, 1.1], [0.2, 1.3], [0.15, 1.6], [0.3, 1.9], [0.1, 2.2], [0.35, 2.5], [0.2, 2.8],
  [0.1, 3.0], [0.3, 1.5], [0.4, 1.2], [0.5, 1.8], [0.45, 2.1], [0.55, 2.4], [0.6, 1.5],
  [0.7, 2.0], [0.75, 1.7], [0.8, 2.6], [0.25, 1.0], [0.05, 4.0], [0.15, 3.5], [0.4, 2.7],
  [0.65, 2.9], [0.5, 1.3], [0.3, 4.1], [0.85, 1.4], [0.9, 2.2], [0.1, 1.4], [0.2, 2.0],
  [0.05, 1.7], [0.25, 2.3], [0.05, 2.6], [0.35, 1.1], [0.6, 2.2], [0.45, 1.5],
  [1.0, 2.5], [1.1, 2.2], [1.2, 2.3], [1.3, 2.6], [1.4, 2.0], [1.5, 2.8], [1.5, 2.3],
  [1.6, 2.5], [1.7, 2.1], [1.8, 2.4], [1.9, 2.2], [2.0, 2.6], [2.1, 2.4], [2.1, 3.0],
  [2.2, 2.7], [2.3, 2.5], [2.4, 2.8], [2.5, 2.4], [2.6, 2.8], [2.7, 2.2], [2.8, 2.9],
  [2.9, 2.6], [3.0, 2.7], [1.2, 1.9], [1.4, 2.9], [1.7, 1.7], [2.2, 2.1], [2.5, 3.0],
  [2.0, 1.9], [1.1, 1.6], [1.3, 1.4], [1.9, 2.8], [2.6, 2.6], [3.1, 2.9], [3.2, 2.6],
  [3.3, 2.8], [3.4, 3.0], [3.5, 2.5], [3.6, 2.9], [3.7, 2.7], [3.8, 3.2], [3.9, 2.8],
  [4.0, 2.4], [4.1, 3.6], [4.2, 2.9], [4.3, 2.6], [4.4, 2.7], [4.5, 3.0], [4.6, 3.4],
  [4.7, 3.2], [4.8, 2.9], [4.9, 3.3], [5.0, 2.8], [4.5, 1.5], [4.7, 1.6], [4.8, 1.5],
  [4.4, 2.3], [3.5, 3.3], [4.0, 3.1], [3.3, 2.3], [4.9, 2.4], [3.0, 3.1], [5.1, 3.1],
  [5.2, 2.9], [5.3, 3.0], [5.4, 3.3], [5.5, 3.5], [5.6, 2.9], [5.7, 3.2], [5.8, 2.7],
  [5.9, 3.4], [6.0, 3.1], [6.1, 2.9], [6.2, 3.5], [6.3, 3.2], [6.4, 3.4], [6.5, 3.1],
  [6.6, 3.4], [6.7, 3.5], [6.8, 3.4], [6.9, 3.3], [7.0, 3.4], [7.5, 3.3], [5.5, 2.1],
  [5.5, 1.4], [6.0, 2.3], [6.1, 2.3], [6.6, 3.0], [6.6, 1.6], [5.0, 2.3], [5.9, 1.9],
  [6.5, 2.8], [5.6, 2.6],
];
const eMovFitHi = [[3.5, 4.2], [7.6, 5.8]];
const eMovFitLo = [[3.5, 2.8], [7.6, 3.7]];

// ---------- F: Ro25 scatter vs emg-rms
const fEmgHi = [
  [0.033, 1.5], [0.033, 1.3], [0.045, 0.9], [0.05, 1.05], [0.055, 1.0], [0.058, 1.1],
  [0.06, 1.65], [0.062, 0.9], [0.065, 1.2], [0.068, 1.0], [0.07, 1.1], [0.072, 1.35],
  [0.075, 1.5], [0.077, 1.05], [0.078, 1.6], [0.08, 1.55], [0.082, 1.3], [0.084, 1.2],
  [0.086, 1.4], [0.088, 1.1], [0.09, 1.25], [0.092, 1.5], [0.093, 1.8], [0.095, 1.6],
  [0.097, 1.0], [0.1, 1.2], [0.055, 1.3], [0.065, 0.85], [0.075, 0.9], [0.085, 1.45],
  [0.126, 1.95], [0.128, 2.1], [0.135, 1.85], [0.14, 2.3], [0.148, 2.55], [0.15, 2.75],
  [0.152, 2.45], [0.155, 2.6], [0.157, 2.85], [0.16, 2.35], [0.162, 2.5], [0.165, 2.7],
  [0.167, 2.55], [0.17, 2.3], [0.172, 2.6], [0.175, 2.45], [0.177, 2.75], [0.18, 2.6],
  [0.182, 2.5], [0.185, 2.8], [0.187, 2.55], [0.19, 2.4], [0.192, 2.6], [0.195, 2.2],
  [0.198, 2.45], [0.2, 2.9], [0.205, 2.55], [0.21, 2.7], [0.215, 2.65], [0.158, 2.25],
  [0.168, 2.15], [0.178, 2.4], [0.188, 2.65], [0.145, 2.45], [0.163, 2.8],
];
const fEmgLo = [
  [0.033, 1.45], [0.033, 1.4], [0.04, 0.9], [0.05, 1.1], [0.055, 0.95], [0.057, 1.05],
  [0.06, 1.45], [0.062, 0.85], [0.065, 1.1], [0.068, 0.95], [0.07, 1.15], [0.072, 0.8],
  [0.075, 1.0], [0.077, 1.2], [0.08, 0.9], [0.082, 1.0], [0.085, 1.05], [0.087, 0.95],
  [0.09, 1.5], [0.092, 1.0], [0.095, 1.1], [0.1, 1.05], [0.06, 0.8], [0.08, 1.35],
  [0.088, 1.2], [0.125, 1.3], [0.13, 1.35], [0.135, 1.25], [0.14, 1.45], [0.145, 1.4],
  [0.148, 1.3], [0.15, 1.5], [0.152, 1.35], [0.155, 1.4], [0.158, 1.2], [0.16, 1.45],
  [0.162, 1.55], [0.165, 1.35], [0.167, 1.25], [0.17, 1.45], [0.172, 1.5], [0.175, 1.35],
  [0.177, 1.55], [0.18, 1.4], [0.182, 1.6], [0.185, 1.45], [0.187, 1.5], [0.19, 1.35],
  [0.192, 1.55], [0.195, 1.4], [0.198, 1.45], [0.2, 1.5], [0.205, 1.45], [0.21, 1.4],
  [0.215, 1.5], [0.157, 1.25], [0.168, 1.3], [0.178, 1.45], [0.188, 1.35], [0.143, 1.5],
];
const fEmgFitHi = [[0.1, 1.58], [0.224, 2.89]];
const fEmgFitLo = [[0.04, 1.23], [0.1, 1.23]];

// ---------- G: emg-rms vs movement
const gMovEmg = [
  [0.05, 0.52], [0.1, 0.55], [0.15, 0.58], [0.2, 0.6], [0.05, 0.62], [0.25, 0.65],
  [0.1, 0.68], [0.3, 0.7], [0.15, 0.72], [0.05, 0.75], [0.35, 0.77], [0.2, 0.8],
  [0.1, 0.82], [0.4, 0.84], [0.25, 0.86], [0.05, 0.88], [0.3, 0.9], [0.15, 0.92],
  [0.45, 0.94], [0.2, 0.96], [0.1, 0.98], [0.35, 1.0], [0.05, 1.02], [0.25, 1.04],
  [0.15, 1.06], [0.4, 1.08], [0.1, 1.1], [0.3, 1.12], [0.05, 1.14], [0.2, 1.16],
  [0.15, 1.18], [0.1, 1.2], [0.25, 1.22], [0.05, 1.25], [0.1, 1.35], [0.05, 1.55],
  [0.15, 1.5], [0.3, 0.55], [0.35, 0.6], [0.4, 0.65], [0.5, 0.7], [0.45, 0.75],
  [0.55, 0.8], [0.5, 0.85], [0.6, 0.9], [0.55, 0.95], [0.6, 1.0], [0.5, 1.05],
  [0.65, 1.1], [0.45, 1.15], [0.55, 1.2], [0.2, 0.53], [0.3, 0.63], [0.15, 0.67],
  [0.25, 0.74], [0.4, 0.79], [0.05, 0.85], [0.35, 0.88], [0.2, 0.91], [0.1, 0.95],
  [0.3, 0.97], [0.45, 1.01], [0.25, 1.09], [0.35, 1.13], [0.4, 1.19], [0.3, 1.3],
  [0.5, 1.37], [0.1, 1.4], [0.2, 1.0], [0.15, 0.8], [0.4, 0.57], [0.8, 0.6],
  [0.9, 0.73], [1.0, 1.68], [0.05, 0.7], [0.05, 0.93], [0.1, 0.6], [0.1, 0.88],
  [0.15, 0.98], [0.2, 0.7], [0.2, 1.08], [0.25, 0.58], [0.25, 0.95], [0.3, 0.8],
  [0.35, 0.7], [0.35, 1.05], [0.4, 0.92], [0.45, 0.62], [0.45, 0.85], [0.5, 0.95],
  [0.7, 1.28], [0.8, 1.25], [0.9, 1.15], [1.0, 1.05], [1.0, 0.8], [1.1, 0.85],
  [1.2, 1.4], [1.3, 1.0], [1.2, 0.95], [1.4, 1.15], [1.5, 1.1], [1.5, 0.9],
  [1.6, 1.2], [1.7, 1.0], [1.8, 0.95], [1.8, 0.72], [1.9, 1.2], [2.0, 1.3],
  [2.0, 1.05], [2.1, 1.15], [2.2, 1.3], [2.3, 1.2], [2.2, 0.85], [2.4, 1.1],
  [2.5, 1.0], [2.5, 1.35], [2.6, 1.15], [2.7, 1.3], [2.8, 1.1], [2.9, 1.25],
  [3.0, 1.3], [3.0, 1.45], [3.1, 1.2], [3.2, 1.15], [3.2, 0.95], [3.3, 1.1],
  [3.4, 1.3], [3.5, 1.25], [3.5, 1.2], [3.6, 1.05], [3.7, 1.3], [3.8, 1.2],
  [3.8, 1.35], [3.9, 1.15], [4.0, 1.25], [4.0, 1.1], [4.1, 1.2], [4.2, 1.3],
  [4.3, 1.15], [4.3, 1.4], [4.4, 1.25], [4.5, 1.1], [4.5, 1.35], [4.6, 1.2],
  [4.7, 1.3], [4.8, 1.15], [4.8, 1.45], [4.9, 1.3], [5.0, 1.35], [5.0, 1.25],
  [5.1, 1.4], [5.2, 1.5], [5.3, 1.35], [5.4, 1.45], [5.5, 1.32], [5.6, 1.4],
  [5.7, 1.45], [5.8, 1.55], [5.9, 1.45], [6.0, 1.5], [6.0, 1.26], [6.1, 1.52],
  [6.2, 1.55], [6.3, 1.48], [6.4, 1.6], [6.5, 1.55], [6.6, 1.48], [6.7, 1.45],
  [6.8, 1.45], [7.0, 1.4], [7.2, 1.47], [7.5, 1.47], [6.5, 1.65], [4.5, 1.78],
  [4.5, 1.75], [2.1, 1.7], [1.9, 1.6], [2.8, 1.2], [3.6, 1.15], [1.5, 0.78],
  [1.3, 0.85], [1.1, 0.7], [1.0, 0.52],
];

// ---------- legends
const spectraLegend = [
  { label: "MK801", color: "#000" },
  { label: "NVP", color: RED },
  { label: "Ro25", color: BLUE },
  { label: "PPDA", color: GREEN },
];
const timeLegend = [
  { label: "emg-rms", color: "#dcdcdc" },
  { label: "fr30-58", color: RED },
  { label: "fr62-80", color: BLUE },
];

// ---------- scales
const xA = d3.scaleLinear().domain([20, 100]).range([78, 420]);
const xB = d3.scaleLinear().domain([20, 100]).range([542, 883]);
const ySpec = d3.scaleLinear().domain([0, 8.5]).range([316, 73]);
const xC = d3.scaleLinear().domain([0, 15]).range([78, 420]);
const xD = d3.scaleLinear().domain([0, 15]).range([542, 883]);
const yTime = d3.scaleLinear().domain([0, 6]).range([707, 463]);
const xE1 = d3.scaleLinear().domain([0.026, 0.222]).range([78, 223]);
const yE1 = d3.scaleLinear().domain([0, 5]).range([999, 853]);
const xE2 = d3.scaleLinear().domain([0, 8]).range([273, 420]);
const yE2 = d3.scaleLinear().domain([1, 6.1]).range([999, 855]);
const xF = d3.scaleLinear().domain([0.027, 0.224]).range([542, 688]);
const yF = d3.scaleLinear().domain([0, 5]).range([999, 853]);
const xG = d3.scaleLinear().domain([0, 8]).range([761, 884]);
const yG = d3.scaleLinear().domain([0.5, 1.8]).range([999, 853]);

function AxisLeft({ scale, x, major, minor = [], fmt = (v) => String(v), size = 20, gap = 8 }) {
  const [r0, r1] = scale.range();
  return (
    <g>
      <line x1={x} x2={x} y1={r0} y2={r1} stroke={AX} strokeWidth={1.2} />
      {minor.map((v) => (
        <line key={"m" + v} x1={x - 3} x2={x} y1={scale(v)} y2={scale(v)} stroke={AX} strokeWidth={1} />
      ))}
      {major.map((v) => (
        <g key={v}>
          <line x1={x - 5} x2={x} y1={scale(v)} y2={scale(v)} stroke={AX} strokeWidth={1.2} />
          <text x={x - gap} y={scale(v)} dy="0.36em" textAnchor="end" fontSize={size}>
            {fmt(v)}
          </text>
        </g>
      ))}
    </g>
  );
}

function AxisBottom({ scale, y, major = [], minor = [], fmt = (v) => String(v), size = 20, dy = 24, tick = 5 }) {
  const [r0, r1] = scale.range();
  return (
    <g>
      <line x1={r0} x2={r1} y1={y} y2={y} stroke={AX} strokeWidth={1.2} />
      {minor.map((v) => (
        <line key={"m" + v} x1={scale(v)} x2={scale(v)} y1={y} y2={y + 3} stroke={AX} strokeWidth={1} />
      ))}
      {major.map((v) => (
        <g key={v}>
          <line x1={scale(v)} x2={scale(v)} y1={y} y2={y + tick} stroke={AX} strokeWidth={1.2} />
          {fmt(v) !== "" && (
            <text x={scale(v)} y={y + dy} textAnchor="middle" fontSize={size}>
              {fmt(v)}
            </text>
          )}
        </g>
      ))}
    </g>
  );
}

function SpectraPanel({ x, mk, nvp, ro, ppda }) {
  const gen = d3
    .line<number | null>()
    .defined((v) => v != null)
    .x((_, i) => x(FREQS[i]))
    .y((v) => ySpec(v as number));
  const draw = (arr, color, key) => (
    <path key={key} d={gen(arr) || ""} fill="none" stroke={color} strokeWidth={1.4} strokeLinejoin="round" />
  );
  return (
    <g>
      {draw(mk, "#000", "mk")}
      {nvp.map((s, i) => draw(s, RED, "n" + i))}
      {ro.map((s, i) => draw(s, BLUE, "r" + i))}
      {ppda.map((s, i) => draw(s, GREEN, "p" + i))}
      <AxisLeft scale={ySpec} x={x.range()[0]} major={[0, 2, 4, 6, 8]} minor={[1, 3, 5, 7]} size={21} />
      <AxisBottom
        scale={x}
        y={ySpec(0)}
        major={d3.range(20, 101, 10)}
        minor={d3.range(25, 100, 10)}
        size={21}
        dy={25}
      />
    </g>
  );
}

function TimePanel({ x, emg, lo, hi }) {
  const area = d3
    .area<number>()
    .x((_, i) => x(HOURS[i]))
    .y0(yTime(0))
    .y1((v) => yTime(Math.min(v, 6)));
  const gen = d3
    .line<number>()
    .x((_, i) => x(HOURS[i]))
    .y((v) => yTime(v));
  return (
    <g>
      <path d={area(emg) || ""} fill="#c0c0c0" />
      <path d={gen(lo) || ""} fill="none" stroke={RED} strokeWidth={1.5} strokeLinejoin="round" />
      <path d={gen(hi) || ""} fill="none" stroke={BLUE} strokeWidth={1.6} strokeLinejoin="round" />
      <AxisLeft scale={yTime} x={x.range()[0]} major={[0, 2, 4, 6]} minor={[1, 3, 5]} size={21} />
      <AxisBottom scale={x} y={yTime(0)} major={[0, 5, 10, 15]} minor={[2.5, 7.5, 12.5]} size={21} dy={25} />
    </g>
  );
}

function Legend({ items, x1, x2, ys, size = 16 }) {
  return (
    <g>
      {items.map((it, i) => (
        <g key={it.label}>
          <line x1={x1} x2={x2} y1={ys[i]} y2={ys[i]} stroke={it.color} strokeWidth={1.6} />
          <text x={x2 + 4} y={ys[i]} dy="0.36em" fontSize={size}>
            {it.label}
          </text>
        </g>
      ))}
    </g>
  );
}

function Dots({ pts, x, y, color }) {
  return (
    <g>
      {pts.map((p, i) => (
        <circle key={i} cx={x(p[0])} cy={y(p[1])} r={2.7} fill={color} />
      ))}
    </g>
  );
}

function Squares({ pts, x, y, color, s = 3.4 }) {
  return (
    <g>
      {pts.map((p, i) => (
        <rect key={i} x={x(p[0]) - s / 2} y={y(p[1]) - s / 2} width={s} height={s} fill={color} />
      ))}
    </g>
  );
}

function Fit({ pts, x, y, color }) {
  return <line x1={x(pts[0][0])} y1={y(pts[0][1])} x2={x(pts[1][0])} y2={y(pts[1][1])} stroke={color} strokeWidth={1} />;
}

function YLabel({ x, y, size = 20, children }) {
  return (
    <text transform={`translate(${x},${y}) rotate(-90)`} textAnchor="middle" fontSize={size}>
      {children}
    </text>
  );
}

function PowerLabel({ x, y }) {
  return (
    <text transform={`translate(${x},${y}) rotate(-90)`} textAnchor="middle" fontSize={19}>
      Δpower (10
      <tspan fontSize={12} dy={-8}>
        -5
      </tspan>
      <tspan dy={8}>V</tspan>
      <tspan fontSize={12} dy={-8}>
        2
      </tspan>
      <tspan dy={8}>)</tspan>
    </text>
  );
}

export default function App() {
  const fmt1 = (v) => d3.format(".1f")(v);
  const none = () => "";
  return (
    <svg
      width={902}
      height={1050}
      style={{ position: "absolute", left: 0, top: 0, background: "#fff" }}
      fontFamily={FONT}
      fill="#000"
    >
      {/* ---- A ---- */}
      <text x={9} y={47} fontSize={52}>A</text>
      <text x={85} y={42} fontSize={34}>frontal ctx</text>
      <SpectraPanel x={xA} mk={aMK801} nvp={aNVP} ro={aRo25} ppda={aPPDA} />
      <Legend items={spectraLegend} x1={333} x2={372} ys={[105, 125, 146, 167]} />
      <PowerLabel x={37} y={175} />
      <text x={249} y={377} textAnchor="middle" fontSize={22}>frequency</text>

      {/* ---- B ---- */}
      <text x={466} y={47} fontSize={52}>B</text>
      <text x={523} y={42} fontSize={34}>occipital ctx</text>
      <SpectraPanel x={xB} mk={bMK801} nvp={bNVP} ro={bRo25} ppda={bPPDA} />
      <Legend items={spectraLegend} x1={799} x2={838} ys={[110, 130, 152, 172]} />
      <PowerLabel x={504} y={175} />
      <text x={713} y={377} textAnchor="middle" fontSize={22}>frequency</text>

      {/* ---- C ---- */}
      <text x={10} y={435} fontSize={52}>C</text>
      <text x={85} y={453} fontSize={33}>NVP</text>
      <TimePanel x={xC} emg={cEmg} lo={cLo} hi={cHi} />
      <Legend items={timeLegend} x1={310} x2={347} ys={[422, 442, 462]} />
      <YLabel x={18} y={571} size={21}>rel. power (ratio)</YLabel>
      <YLabel x={47} y={571} size={20}>EMG (RMS)</YLabel>
      <text x={257} y={770} textAnchor="middle" fontSize={21}>time (hr)</text>

      {/* ---- D ---- */}
      <text x={466} y={428} fontSize={52}>D</text>
      <text x={529} y={448} fontSize={33}>Ro25</text>
      <TimePanel x={xD} emg={dEmg} lo={dLo} hi={dHi} />
      <Legend items={timeLegend} x1={776} x2={814} ys={[419, 439, 460]} />
      <YLabel x={483} y={570} size={21}>rel. power (ratio)</YLabel>
      <YLabel x={512} y={570} size={20}>EMG (RMS)</YLabel>
      <text x={713} y={770} textAnchor="middle" fontSize={21}>time (hr)</text>

      {/* ---- E ---- */}
      <text x={12} y={842} fontSize={52}>E</text>
      <text x={84} y={846} fontSize={33}>NVP</text>
      <Fit pts={eEmgFitHi} x={xE1} y={yE1} color="#d8d8ff" />
      <Fit pts={eEmgFitLo} x={xE1} y={yE1} color="#ffd8d8" />
      <Squares pts={eEmgHi} x={xE1} y={yE1} color={BLUE} />
      <Dots pts={eEmgLo} x={xE1} y={yE1} color={RED} />
      <AxisLeft scale={yE1} x={78} major={[0, 2, 4]} minor={[1, 3, 5]} size={19} gap={7} />
      <AxisBottom scale={xE1} y={999} major={[0.1, 0.2]} minor={[0.05, 0.15]} fmt={fmt1} size={19} dy={20} />
      <YLabel x={46} y={922} size={21}>rel. power</YLabel>
      <text x={143} y={1043} textAnchor="middle" fontSize={20}>emg-rms</text>

      <Fit pts={eMovFitHi} x={xE2} y={yE2} color="#ffe0e0" />
      <Fit pts={eMovFitLo} x={xE2} y={yE2} color="#ffe0e0" />
      <Squares pts={eMovHi} x={xE2} y={yE2} color={BLUE} />
      <Dots pts={eMovLo} x={xE2} y={yE2} color={RED} />
      <AxisLeft scale={yE2} x={273} major={[2, 4, 6]} minor={[3, 5]} size={19} gap={7} />
      <AxisBottom scale={xE2} y={999} major={d3.range(1, 9)} fmt={none} tick={4} />
      <YLabel x={246} y={920} size={21}>rel. power</YLabel>
      <text x={347} y={1027} textAnchor="middle" fontSize={21}>movement</text>

      {/* lo/hi gamma legend */}
      <rect x={436} y={1005} width={67} height={48} fill="#fff" stroke="#888" strokeWidth={1} />
      <circle cx={458} cy={1018} r={6.5} fill={RED} />
      <g stroke="#3344ff" strokeWidth={1.2}>
        <line x1={450} x2={466} y1={1039} y2={1039} />
        <line x1={458} x2={458} y1={1031} y2={1047} />
        <line x1={452} x2={464} y1={1033} y2={1045} />
        <line x1={452} x2={464} y1={1045} y2={1033} />
      </g>
      <circle cx={458} cy={1039} r={1.6} fill={BLUE} />
      <text x={477} y={1024} fontSize={16}>lo-γ</text>
      <text x={477} y={1046} fontSize={16}>hi-γ</text>

      {/* ---- F ---- */}
      <text x={472} y={840} fontSize={52}>F</text>
      <text x={548} y={847} fontSize={33}>Ro25</text>
      <Fit pts={fEmgFitHi} x={xF} y={yF} color="#d8d8ff" />
      <Fit pts={fEmgFitLo} x={xF} y={yF} color="#ffd8d8" />
      <Squares pts={fEmgHi} x={xF} y={yF} color={BLUE} />
      <Dots pts={fEmgLo} x={xF} y={yF} color={RED} />
      <AxisLeft scale={yF} x={542} major={[0, 2, 4]} minor={[1, 3, 5]} size={19} gap={7} />
      <AxisBottom scale={xF} y={999} major={[0.1, 0.2]} minor={[0.05, 0.15]} fmt={fmt1} size={19} dy={20} />
      <YLabel x={513} y={917} size={21}>rel. power</YLabel>
      <text x={619} y={1043} textAnchor="middle" fontSize={20}>emg-rms</text>

      {/* ---- G ---- */}
      <text x={716} y={840} fontSize={52}>G</text>
      <Squares pts={gMovEmg} x={xG} y={yG} color="#000" s={4.6} />
      <AxisLeft scale={yG} x={761} major={[0.5, 1.0, 1.5]} minor={[0.75, 1.25, 1.75]} fmt={fmt1} size={19} gap={6} />
      <AxisBottom scale={xG} y={999} major={d3.range(1, 9)} fmt={none} tick={4} />
      <YLabel x={723} y={918} size={21}>emg-rms</YLabel>
      <text x={823} y={1026} textAnchor="middle" fontSize={21}>movement</text>
      <rect x={859} y={836} width={31} height={9} fill="#fff" stroke="#999" strokeWidth={0.8} />
      <rect x={862} y={838} width={4.5} height={4.5} fill="#000" />
      <text x={870} y={843} fontSize={6} fill="#777">emg</text>
    </svg>
  );
}
